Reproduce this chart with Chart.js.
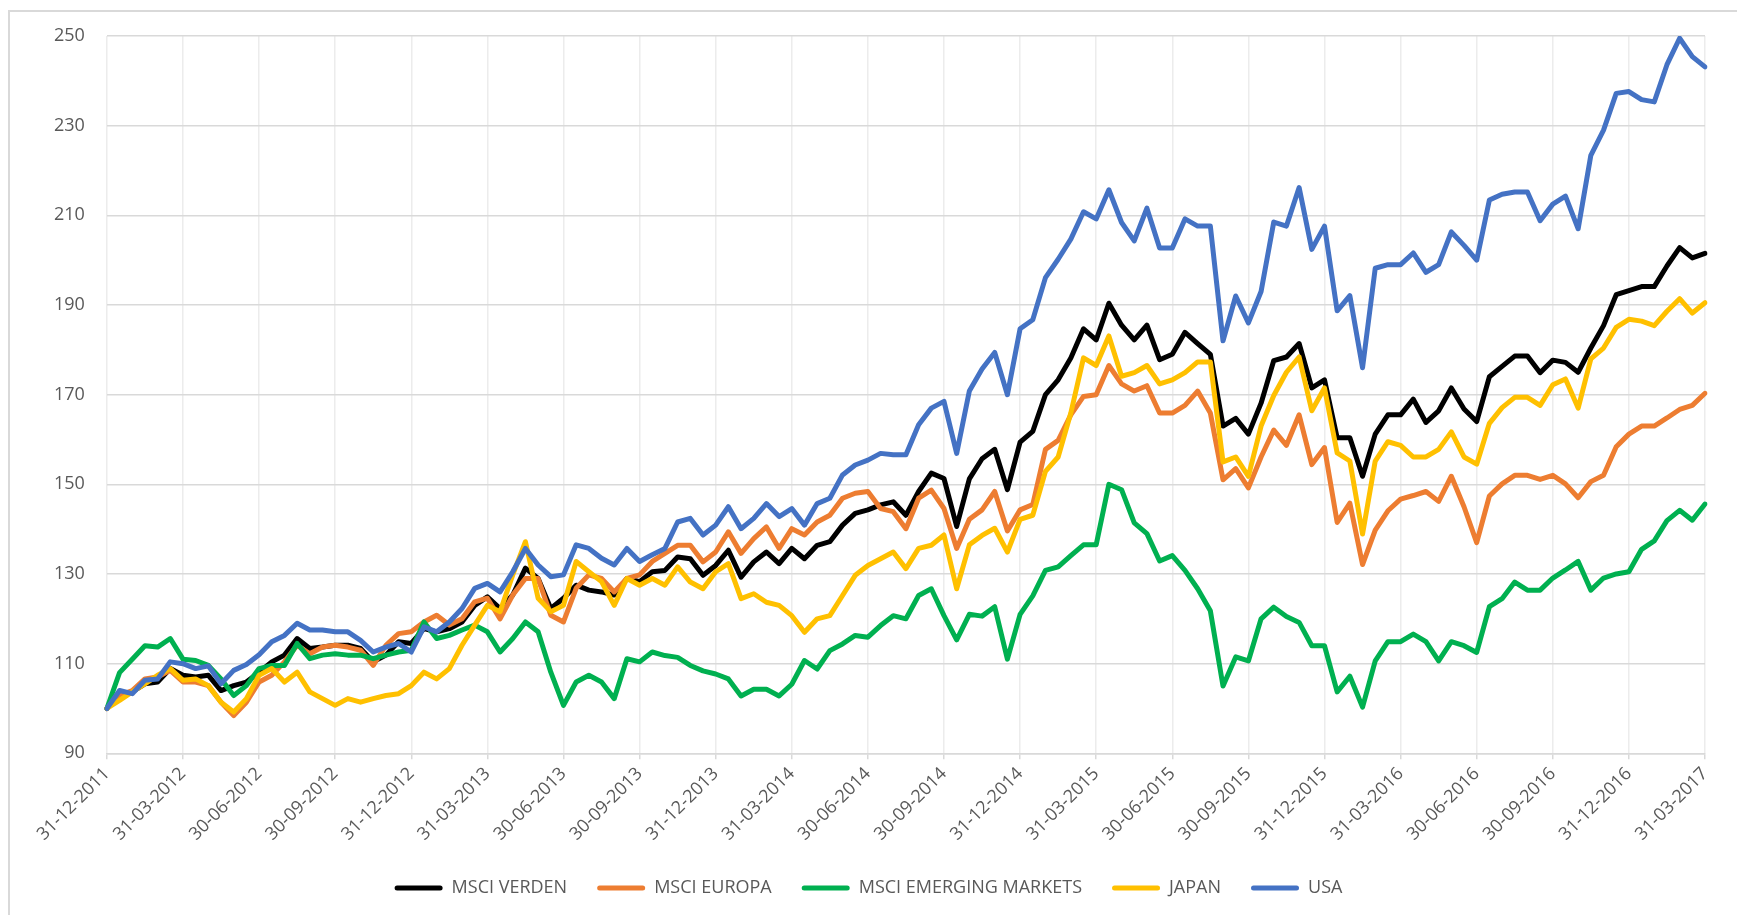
<!DOCTYPE html>
<html>
<head>
<meta charset="utf-8">
<script src="https://cdn.jsdelivr.net/npm/chart.js@4.4.1/dist/chart.umd.min.js"></script>
<style>
  html, body { margin: 0; padding: 0; background: #fff; overflow: hidden; }
  #frame { position: absolute; left: 8px; top: 10px; width: 1760px; height: 940px; border: 2px solid #d9d9d9; }
  #wrap { position: absolute; left: 0; top: 0; width: 1737px; height: 910px; }
</style>
</head>
<body>
<div id="frame"></div>
<div id="wrap"><canvas id="indexChart" width="1737" height="910"></canvas></div>
<script>
// quarter-end tick labels, 6 readings per quarter in between
const tickLabels = ['31-12-2011', '31-03-2012', '30-06-2012', '30-09-2012', '31-12-2012', '31-03-2013',
  '30-06-2013', '30-09-2013', '31-12-2013', '31-03-2014', '30-06-2014', '30-09-2014', '31-12-2014',
  '31-03-2015', '30-06-2015', '30-09-2015', '31-12-2015', '31-03-2016', '30-06-2016', '30-09-2016',
  '31-12-2016', '31-03-2017'];
const POINTS_PER_QUARTER = 6;

const msciVerden = [100, 103.3, 103.7, 105.5, 105.9, 108.9, 107.4,
  107, 107.4, 104, 105.1, 105.9, 108.1,
  110.4, 111.9, 115.6, 113.4, 113.7, 114.1,
  114.1, 113.4, 110.4, 111.9, 114.9, 114.5,
  117.8, 117.1, 117.8, 119.3, 123, 124.9,
  122.3, 125.3, 131.3, 129, 122.3, 124.6,
  127.5, 126.4, 126, 125.3, 129, 128.3,
  130.5, 130.8, 133.8, 133.4, 129.7, 131.9,
  135.3, 129.3, 132.7, 134.9, 132.3, 135.7,
  133.4, 136.4, 137.2, 140.9, 143.5, 144.3,
  145.4, 146.1, 143.1, 148.4, 152.5, 151.3,
  140.6, 151.2, 155.7, 157.8, 148.8, 159.4,
  161.8, 170, 173.3, 178.2, 184.7, 182.2,
  190.4, 185.5, 182.2, 185.5, 177.8, 179,
  183.9, 181.4, 179, 163, 164.7, 161.2,
  168.1, 177.6, 178.4, 181.4, 171.5, 173.3,
  160.4, 160.4, 151.8, 161.2, 165.5, 165.5,
  169, 163.8, 166.4, 171.5, 166.8, 164,
  174, 176.3, 178.6, 178.6, 174.9, 177.7,
  177.2, 175, 180.4, 185.4, 192.3, 193.2,
  194.1, 194.1, 198.7, 202.8, 200.5, 201.5];

const msciEuropa = [100, 102.9, 104, 106.6, 107, 108.5, 105.9,
  105.9, 105.1, 101.4, 98.4, 101.4, 105.9,
  107.4, 110.4, 114.1, 112.2, 113.7, 114.1,
  113.7, 113, 109.6, 114.1, 116.7, 117.1,
  119.3, 120.8, 118.6, 120, 123.8, 124.6,
  120, 125.3, 129, 129, 120.8, 119.3,
  126.8, 129.8, 129, 126, 129, 129.8,
  132.8, 134.6, 136.4, 136.4, 132.7, 134.9,
  139.4, 134.6, 137.9, 140.5, 135.7, 140.1,
  138.7, 141.6, 143.1, 146.9, 148, 148.4,
  144.6, 143.9, 140.1, 146.9, 148.7, 144.6,
  135.7, 142.2, 144.3, 148.4, 139.6, 144.3,
  145.5, 157.8, 159.8, 165.5, 169.6, 170,
  176.5, 172.4, 170.8, 172, 165.9, 165.9,
  167.6, 170.8, 165.9, 151, 153.5, 149.2,
  156.1, 162.1, 158.7, 165.5, 154.4, 158.2,
  141.5, 145.8, 132.1, 139.8, 144.1, 146.7,
  147.5, 148.4, 146.2, 151.8, 145, 137,
  147.4, 150.1, 152, 152, 151.1, 152,
  150.1, 147, 150.6, 152, 158.4, 161.2,
  163, 163, 164.8, 166.7, 167.6, 170.3];

const msciEmerging = [100, 108, 111, 114, 113.7, 115.6, 111,
  110.7, 109.6, 106.6, 102.9, 105.1, 108.9,
  109.6, 109.6, 114.5, 111.1, 111.9, 112.2,
  111.9, 111.9, 111.1, 111.9, 112.6, 113,
  119.3, 115.6, 116.3, 117.5, 118.6, 117.1,
  112.6, 115.6, 119.3, 117.1, 108.1, 100.7,
  105.9, 107.4, 105.9, 102.2, 111.1, 110.4,
  112.6, 111.8, 111.4, 109.6, 108.4, 107.7,
  106.6, 102.8, 104.3, 104.3, 102.8, 105.4,
  110.7, 108.8, 112.9, 114.4, 116.3, 115.9,
  118.5, 120.7, 120, 125.2, 126.7, 120.7,
  115.3, 121, 120.6, 122.7, 111, 121,
  125.1, 130.8, 131.6, 134.1, 136.5, 136.5,
  150, 148.8, 141.4, 139, 132.9, 134.1,
  130.8, 126.7, 121.8, 105, 111.5, 110.6,
  120, 122.6, 120.5, 119.2, 114, 114,
  103.7, 107.2, 100.3, 110.6, 114.9, 114.9,
  116.6, 114.9, 110.6, 114.9, 114, 112.5,
  122.7, 124.5, 128.2, 126.4, 126.4, 129.1,
  130.9, 132.8, 126.4, 129.1, 130, 130.5,
  135.5, 137.4, 141.9, 144.2, 142, 145.6];

const japan = [100, 101.8, 103.7, 105.5, 107.4, 108.9, 106.3,
  106.6, 105.1, 101.4, 99.2, 102.2, 107.4,
  108.9, 105.9, 108.1, 103.7, 102.2, 100.7,
  102.2, 101.4, 102.2, 102.9, 103.3, 105.1,
  108.1, 106.6, 108.9, 114.1, 118.6, 123,
  121.6, 129.8, 137.2, 124.6, 121.6, 123,
  132.8, 130.5, 128.3, 123, 129, 127.5,
  129, 127.5, 131.6, 128.2, 126.7, 130.5,
  132.3, 124.5, 125.6, 123.7, 123, 120.7,
  117, 120, 120.7, 125.2, 129.7, 131.9,
  133.4, 134.9, 131.2, 135.7, 136.4, 138.7,
  126.7, 136.5, 138.6, 140.2, 134.9, 142.2,
  143.1, 152.9, 156.1, 165.9, 178.2, 176.5,
  183.1, 174.1, 174.9, 176.5, 172.4, 173.3,
  174.9, 177.3, 177.3, 155, 156.1, 151.8,
  163, 169.8, 175, 178.4, 166.4, 171.5,
  157, 155.2, 138.9, 155.2, 159.5, 158.7,
  156.1, 156.1, 157.8, 161.7, 156.1, 154.5,
  163.6, 167.1, 169.4, 169.4, 167.6, 172.2,
  173.5, 167, 178, 180.4, 185, 186.8,
  186.4, 185.4, 188.6, 191.4, 188.2, 190.5];

const usa = [100, 104, 103.3, 106.3, 106.6, 110.4, 110,
  108.9, 109.5, 105.5, 108.5, 109.8, 112,
  114.9, 116.3, 119, 117.5, 117.5, 117.1,
  117.1, 115.2, 112.6, 113.7, 114.5, 112.6,
  118.2, 117.1, 119.3, 122.3, 126.8, 127.9,
  126, 130.5, 135.7, 132, 129.4, 129.8,
  136.5, 135.7, 133.5, 132, 135.7, 132.8,
  134.3, 135.7, 141.6, 142.4, 138.7, 140.9,
  145, 140.1, 142.4, 145.7, 142.8, 144.6,
  140.9, 145.7, 146.9, 152.1, 154.3, 155.4,
  156.9, 156.6, 156.6, 163.3, 167, 168.5,
  156.9, 170.8, 175.7, 179.4, 170, 184.7,
  186.7, 196.1, 200.2, 204.7, 210.8, 209.2,
  215.7, 208.4, 204.3, 211.6, 202.7, 202.7,
  209.2, 207.6, 207.6, 182, 192, 186,
  193, 208.5, 207.6, 216.2, 202.4, 207.6,
  188.7, 192.1, 176, 198.2, 199, 199,
  201.6, 197.3, 199, 206.3, 203.3, 200,
  213.4, 214.7, 215.2, 215.2, 208.8, 212.5,
  214.3, 207, 223.4, 229, 237.2, 237.6,
  235.8, 235.3, 243.6, 249.5, 245.4, 243.1];

const seriesNames = ['MSCI VERDEN', 'MSCI EUROPA', 'MSCI EMERGING MARKETS', 'JAPAN', 'USA'];
const seriesColors = ['#000000', '#ED7D31', '#00B050', '#FFC000', '#4472C4'];
const seriesValues = [msciVerden, msciEuropa, msciEmerging, japan, usa];

// x labels: a date at each quarter end, blank in between
const labels = msciVerden.map((v, i) => i % POINTS_PER_QUARTER === 0 ? tickLabels[i / POINTS_PER_QUARTER] : '');

const textColor = '#595959';
const fontFamily = '"Open Sans", "Liberation Sans", sans-serif';

const ctx = document.getElementById('indexChart').getContext('2d');
const indexChart = new Chart(ctx, {
  type: 'line',
  data: {
    labels: labels,
    datasets: seriesValues.map((vals, i) => ({
      label: seriesNames[i],
      data: vals,
      borderColor: seriesColors[i],
      backgroundColor: seriesColors[i],
      borderWidth: 5,
      pointRadius: 0,
      tension: 0,
      borderJoinStyle: 'round',
      borderCapStyle: 'round',
      order: seriesValues.length - i // later series on top, like the original
    }))
  },
  options: {
    responsive: false,
    animation: false,
    layout: { padding: { left: 32, right: 32, top: 36, bottom: 3 } },
    plugins: {
      tooltip: { enabled: false },
      legend: {
        position: 'bottom',
        labels: {
          boxWidth: 48,
          boxHeight: 5,
          useBorderRadius: true,
          borderRadius: 2.5,
          padding: 30,
          color: textColor,
          font: { family: fontFamily, size: 18 },
          sort: (a, b) => a.datasetIndex - b.datasetIndex,
          generateLabels: (chart) => {
            const items = Chart.defaults.plugins.legend.labels.generateLabels(chart);
            return items.map(it => Object.assign(it, { lineWidth: 0, fillStyle: seriesColors[it.datasetIndex] }));
          }
        }
      }
    },
    scales: {
      x: {
        grid: { color: '#ececec', lineWidth: 1.5, tickLength: 6, tickColor: '#d9d9d9' },
        border: { display: true, color: '#d9d9d9', width: 1.5 },
        ticks: {
          autoSkip: false,
          minRotation: 45,
          maxRotation: 45,
          padding: 4,
          color: textColor,
          font: { family: fontFamily, size: 18 },
          callback: (val, i) => i % POINTS_PER_QUARTER === 0 ? labels[i] : null
        }
      },
      y: {
        min: 90,
        max: 250,
        grid: { color: '#d9d9d9', lineWidth: 1.5, drawTicks: false },
        border: { display: false },
        ticks: {
          stepSize: 20,
          padding: 22,
          color: textColor,
          font: { family: fontFamily, size: 18 }
        }
      }
    }
  }
});
</script>
</body>
</html>
